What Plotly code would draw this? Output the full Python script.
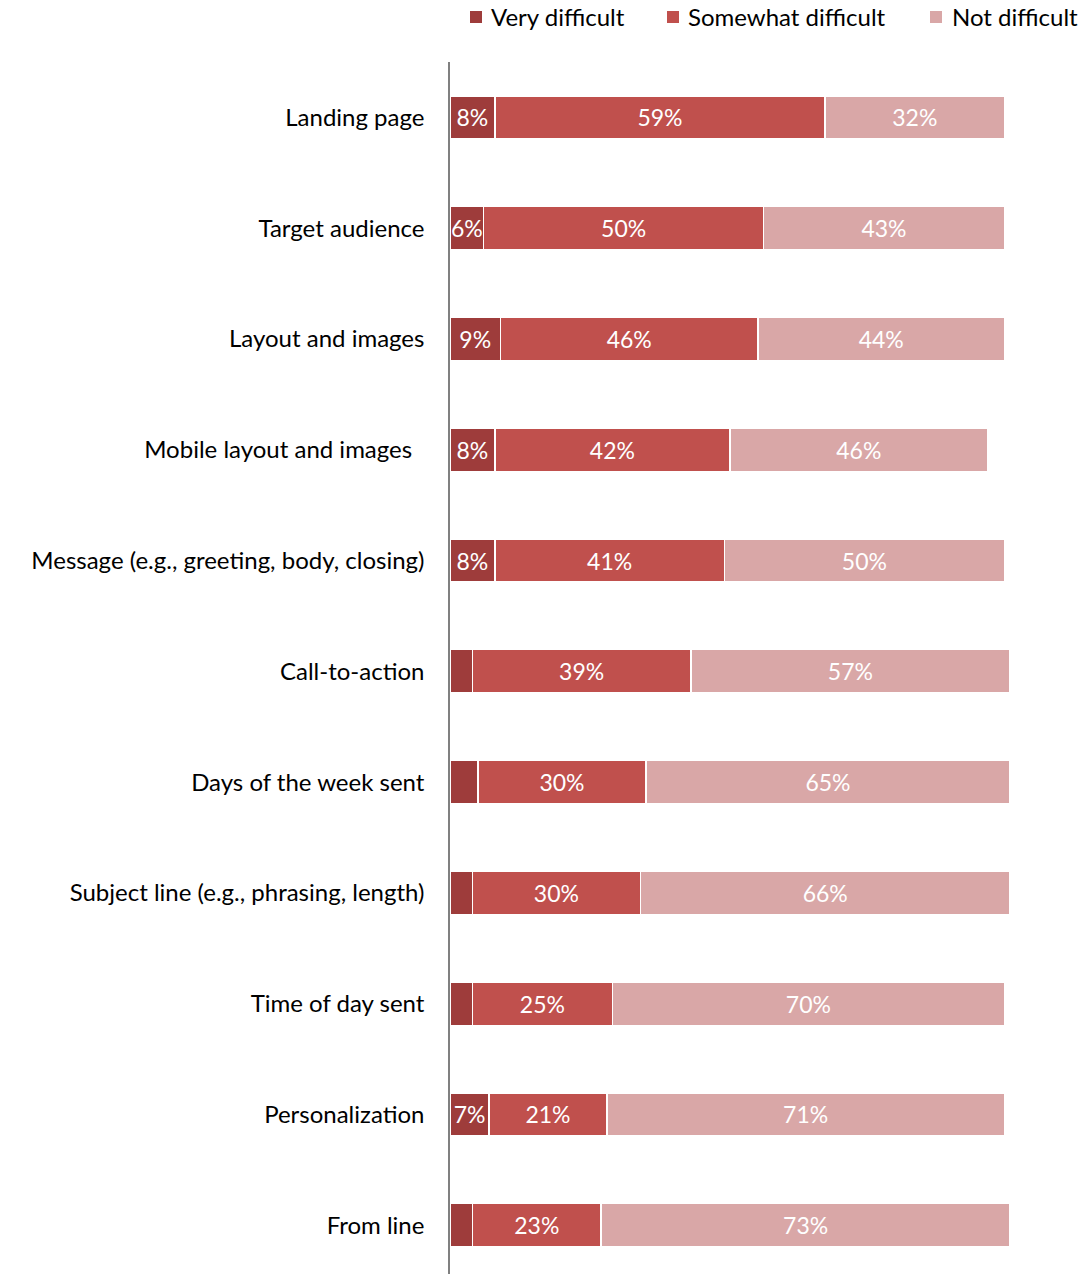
import plotly.graph_objects as go

categories = [
    "Landing page",
    "Target audience",
    "Layout and images",
    "Mobile layout and images\u00a0\u00a0",
    "Message (e.g., greeting, body, closing)",
    "Call-to-action",
    "Days of the week sent",
    "Subject line (e.g., phrasing, length)",
    "Time of day sent",
    "Personalization",
    "From line",
]
very_difficult = [8, 6, 9, 8, 8, 4, 5, 4, 4, 7, 4]
somewhat_difficult = [59, 50, 46, 42, 41, 39, 30, 30, 25, 21, 23]
not_difficult = [32, 43, 44, 46, 50, 57, 65, 66, 70, 71, 73]

series_names = ["Very difficult", "Somewhat difficult", "Not difficult"]
series_values = [very_difficult, somewhat_difficult, not_difficult]
series_colors = ["#9E3C3B", "#C0504D", "#D9A7A7"]

FONT = "Lato, 'Open Sans', sans-serif"

W, H = 1083, 1274
ML, MR, MT, MB = 450, 73, 62, 0
PW, PH = W - ML - MR, H - MT - MB


def px_x(px):
    return (px - ML) / PW


def px_y(py):
    return (H - MB - py) / PH


fig = go.Figure()
for name, vals, color in zip(series_names, series_values, series_colors):
    fig.add_trace(go.Bar(
        name=name,
        y=categories,
        x=vals,
        orientation="h",
        marker=dict(color=color, line=dict(color="white", width=1.5)),
        text=[f"{v}%" if v >= 6 else "" for v in vals],
        textposition="inside",
        insidetextanchor="middle",
        textangle=0,
        textfont=dict(color="white", size=23, family=FONT),
        hoverinfo="skip",
        showlegend=False,
    ))

# legend drawn as squares + text (positions are layout only)
legend_square_left = [470, 667, 930]
legend_text_left = [489, 686, 950]
shapes = []
annotations = []
for name, color, sq, tx in zip(series_names, series_colors, legend_square_left, legend_text_left):
    shapes.append(dict(
        type="rect", xref="paper", yref="paper",
        x0=px_x(sq), x1=px_x(sq + 12), y0=px_y(23), y1=px_y(11),
        fillcolor=color, line=dict(width=0),
    ))
    annotations.append(dict(
        text=name, xref="paper", yref="paper",
        x=px_x(tx), y=px_y(17), xanchor="left", yanchor="middle",
        showarrow=False, font=dict(size=24, family=FONT, color="black"),
    ))

fig.update_layout(
    barmode="stack",
    bargap=0.61,
    width=W,
    height=H,
    paper_bgcolor="white",
    plot_bgcolor="white",
    margin=dict(l=ML, r=MR, t=MT, b=MB, autoexpand=False),
    font=dict(family=FONT, size=24, color="black"),
    uniformtext=dict(minsize=23, mode="show"),
    showlegend=False,
    shapes=shapes,
    annotations=annotations,
    xaxis=dict(
        range=[0, 100],
        showgrid=False,
        zeroline=False,
        showticklabels=False,
        showline=False,
        fixedrange=True,
    ),
    yaxis=dict(
        categoryorder="array",
        categoryarray=categories,
        range=[10.44, -0.5],
        showgrid=False,
        zeroline=False,
        showline=True,
        linecolor="#808080",
        linewidth=1.5,
        ticks="outside",
        ticklen=19,
        tickcolor="rgba(0,0,0,0)",
        tickfont=dict(size=24, family=FONT, color="black"),
    ),
)

fig.write_html(
    "out.html",
    config={"displayModeBar": False},
    post_script="document.body.style.margin='0';document.body.style.overflow='hidden';",
)
